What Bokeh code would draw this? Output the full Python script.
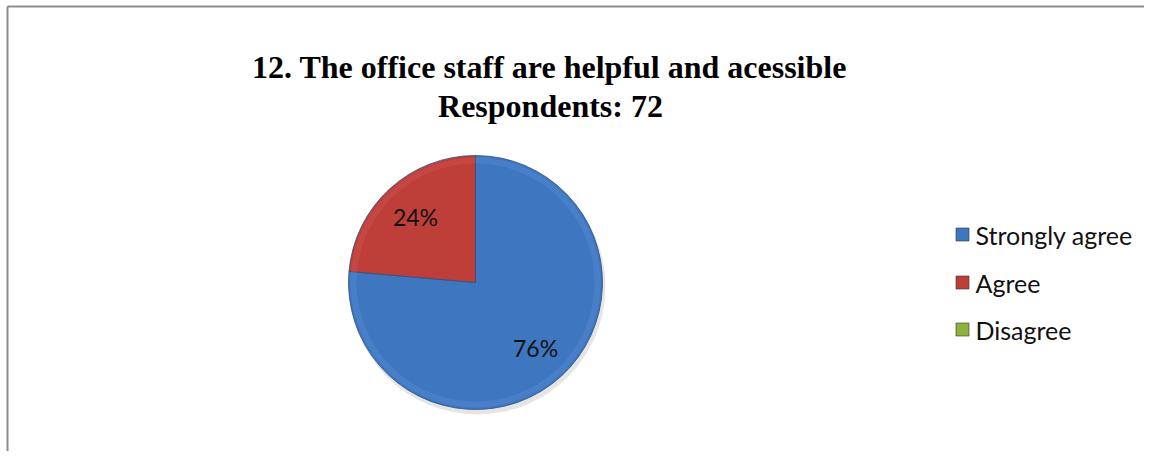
import math
from bokeh.plotting import figure
from bokeh.models import Range1d, ColumnDataSource
from bokeh.core.properties import value
from bokeh.embed import file_html
from bokeh.resources import INLINE

# ---- data ----
categories = ["Strongly agree", "Agree", "Disagree"]
counts = [55, 17, 0]
colors = ["#3F76C0", "#BE3E3A", "#8DB33E"]
title_lines = ["12. The office staff are helpful and acessible", "Respondents: 72"]

W, H = 1144, 451
OX, OY = 1, 2
p = figure(width=W, height=H, output_backend="svg", toolbar_location=None,
           x_range=Range1d(0, W), y_range=Range1d(0, H), min_border=0)
p.axis.visible = False
p.grid.visible = False
p.outline_line_color = None
p.background_fill_color = "white"

def py(page_y):
    return H + OY - page_y

def px(page_x):
    return page_x - OX

# frame (top and left edges visible)
fx, fy = px(8), py(8)
p.segment(x0=[fx, fx], y0=[0, fy], x1=[fx, W], y1=[fy, fy],
          line_color="#8c8c8c", line_width=2)

# ---- pie ----
cx, cy, R = px(476), py(284), 127
total = sum(counts)
fr = [c / total for c in counts]
starts, ends, mids, cols, lcols = [], [], [], [], []
lighter = ["#5E95DC", "#D65B57", "#A8CC5A"]
a = math.pi / 2
for f, c, lc in zip(fr, colors, lighter):
    s = a
    e = a - f * 2 * math.pi
    if f > 0:
        starts.append(s)
        ends.append(e)
        mids.append((s + e) / 2)
        cols.append(c)
        lcols.append(lc)
    a = e

src = ColumnDataSource(dict(start=starts, end=ends, color=cols, light=lcols))
# soft shadow
p.circle(x=[cx + 2], y=[cy - 4], radius=R + 1, fill_color="#000000", fill_alpha=0.10,
         line_color=None)
# main slices
p.wedge(x=cx, y=cy, radius=R, start_angle="start", end_angle="end", direction="clock",
        fill_color="color", line_color="#2d4f7c", line_width=0.8, source=src)
# bevel highlight ring
p.annular_wedge(x=cx, y=cy, inner_radius=R - 8, outer_radius=R - 2, start_angle="start",
                end_angle="end", direction="clock", fill_color="light", fill_alpha=0.30,
                line_color=None, source=src)

# labels
lx, ly, lt = [], [], []
for f, m in zip([x for x in fr if x > 0], mids):
    lx.append(cx + 0.70 * R * math.cos(m))
    ly.append(cy + 0.70 * R * math.sin(m))
    lt.append(f"{round(f * 100)}%")
p.text(x=lx, y=ly, text=lt, text_align="center", text_baseline="middle",
       text_font=value("Lato"), text_font_size="23px", text_color="#111111")

# ---- title ----
p.text(x=[px(550), px(551)], y=[py(68), py(107)], text=title_lines,
       text_align="center", text_baseline="middle",
       text_font=value("Liberation Serif"), text_font_style="bold",
       text_font_size="32px", text_color="#000000")

# ---- legend ----
leg_y = [py(236), py(284), py(331)]
p.rect(x=[px(963)] * 3, y=leg_y, width=13, height=13, fill_color=colors,
       line_color="#333333", line_width=0.6)
p.text(x=[px(976)] * 3, y=leg_y, text=categories, text_align="left",
       text_baseline="middle", text_font=value("Lato"), text_font_size="25px",
       text_color="#111111")

open("out.html", "w").write(file_html(p, INLINE))
